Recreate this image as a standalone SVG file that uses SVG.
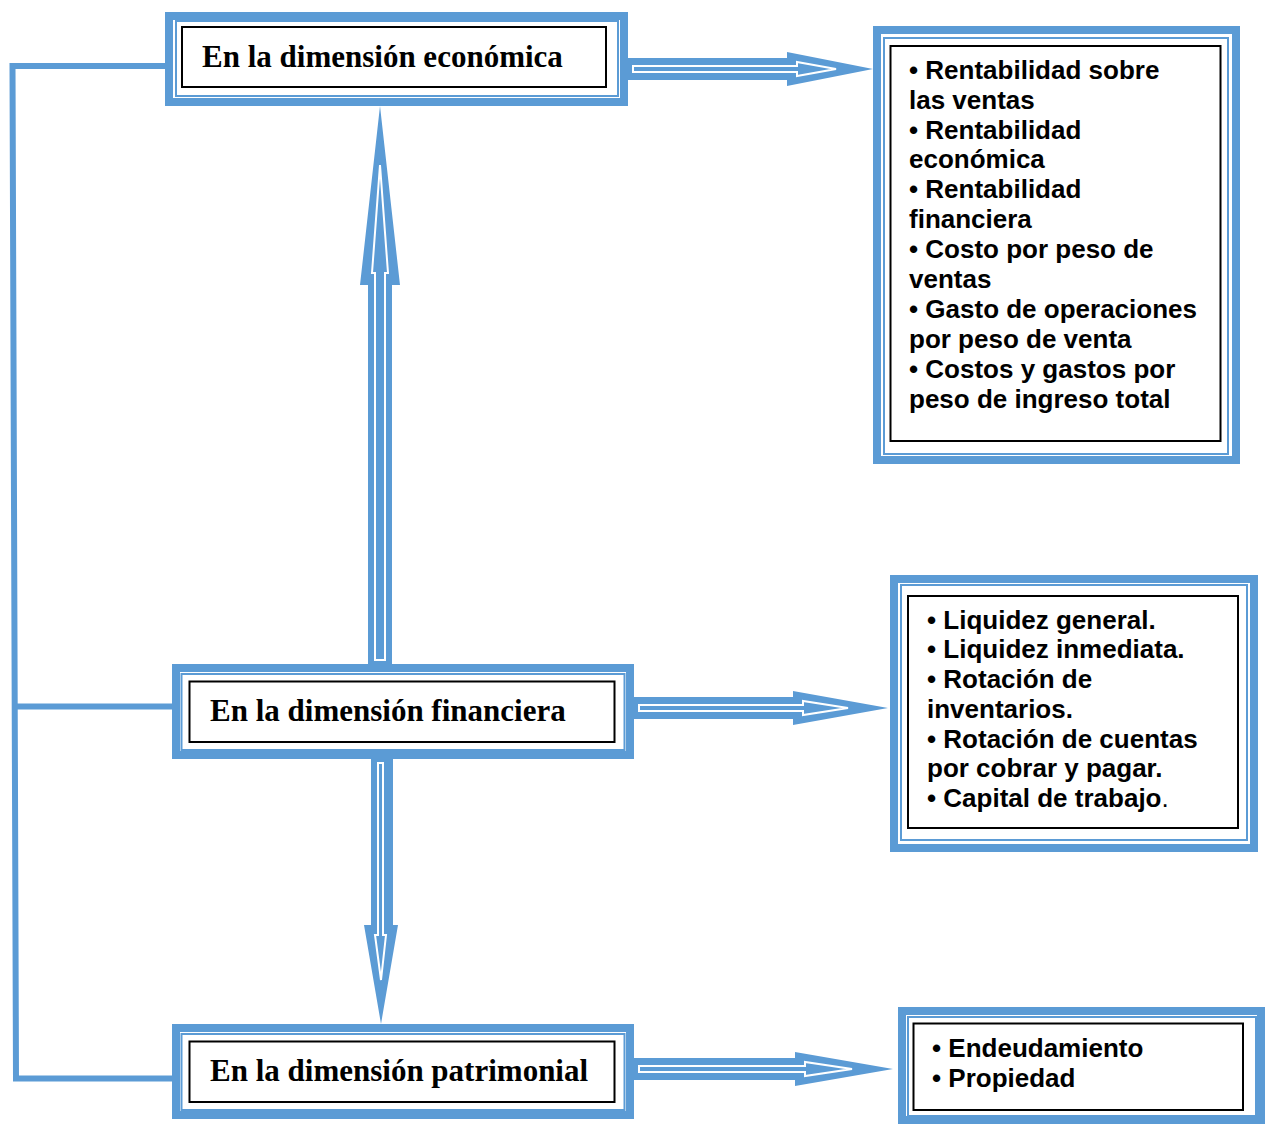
<svg xmlns="http://www.w3.org/2000/svg" width="1269" height="1124" viewBox="0 0 1269 1124">
<style>
.outer{fill:none;stroke:#5B9BD5;stroke-width:8}
.thin{fill:none;stroke:#5B9BD5;stroke-width:2}
.blk{fill:#fff;stroke:#000;stroke-width:2}
.arr{fill:#5B9BD5;stroke:none}
.arrin{fill:none;stroke:#fff;stroke-width:2;stroke-linejoin:miter}
.line{fill:none;stroke:#5B9BD5;stroke-width:6}
.lt{font-family:"Liberation Serif","Times New Roman",serif;font-weight:bold;font-size:31px;fill:#000}
.rt{font-family:"Liberation Sans",Arial,sans-serif;font-weight:bold;font-size:26px;fill:#000}
</style>
<rect width="1269" height="1124" fill="#fff"/>
<g id="connectors">
<path class="line" d="M165,66 L12.5,66 L16,1078.5 L172,1078.5"/>
<path class="line" d="M14.5,706.5 L172,706.5"/>
<polygon class="arr" points="628,58 787,58 787,52 873,69 787,86 787,80 628,80"/>
<polygon class="arrin" points="633,66 797,66 797,62 836,69 797,76 797,72 633,72"/>
<polygon class="arr" points="634,697 793,697 793,691 888,708 793,725 793,719 634,719"/>
<polygon class="arrin" points="639,705 803,705 803,701 848,708 803,715 803,711 639,711"/>
<polygon class="arr" points="634,1058 795,1058 795,1052 893,1069 795,1086 795,1080 634,1080"/>
<polygon class="arrin" points="639,1066 805,1066 805,1062 852,1069 805,1076 805,1072 639,1072"/>
<polygon class="arr" points="368,664 368,285 360,285 380,106 400,285 392,285 392,664"/>
<polygon class="arrin" points="375,660 375,273 372,273 380,165 388,273 385,273 385,660"/>
<polygon class="arr" points="371,759 371,925 364,925 381,1024 398,925 393,925 393,759"/>
<polygon class="arrin" points="378,763 378,935 375,935 381,980 386,935 383,935 383,763"/>
</g>
<g id="economica">
<rect class="outer" x="169" y="16" width="455" height="86"/>
<rect class="thin" x="176" y="21" width="442" height="75"/>
<rect class="blk" x="182" y="27" width="424" height="60"/>
<text class="lt" x="202" y="67">En la dimensión económica</text>
</g>
<g id="financiera">
<rect class="outer" x="176" y="668" width="454" height="87"/>
<rect class="thin" x="181.5" y="674" width="443" height="76"/>
<rect class="blk" x="189.5" y="681.5" width="425" height="60.5"/>
<text class="lt" x="210" y="721">En la dimensión financiera</text>
</g>
<g id="patrimonial">
<rect class="outer" x="176" y="1028" width="454" height="87"/>
<rect class="thin" x="181.5" y="1034" width="443" height="76"/>
<rect class="blk" x="189.5" y="1041.5" width="425" height="60.5"/>
<text class="lt" x="210" y="1081">En la dimensión patrimonial</text>
</g>
<g id="indicadores-economicos">
<rect class="outer" x="877" y="30" width="359" height="430"/>
<rect class="thin" x="884" y="38" width="344" height="416"/>
<rect class="blk" x="890.5" y="46" width="330" height="395"/>
<text class="rt">
<tspan x="909" y="79">• Rentabilidad sobre</tspan>
<tspan x="909" y="109">las ventas</tspan>
<tspan x="909" y="139">• Rentabilidad</tspan>
<tspan x="909" y="168">económica</tspan>
<tspan x="909" y="198">• Rentabilidad</tspan>
<tspan x="909" y="228">financiera</tspan>
<tspan x="909" y="258">• Costo por peso de</tspan>
<tspan x="909" y="288">ventas</tspan>
<tspan x="909" y="318">• Gasto de operaciones</tspan>
<tspan x="909" y="348">por peso de venta</tspan>
<tspan x="909" y="378">• Costos y gastos por</tspan>
<tspan x="909" y="408">peso de ingreso total</tspan>
</text>
</g>
<g id="indicadores-financieros">
<rect class="outer" x="894" y="579" width="360" height="269"/>
<rect class="thin" x="901" y="585" width="346" height="255"/>
<rect class="blk" x="908" y="596" width="330" height="232"/>
<text class="rt">
<tspan x="927" y="629">• Liquidez general.</tspan>
<tspan x="927" y="658">• Liquidez inmediata.</tspan>
<tspan x="927" y="688">• Rotación de</tspan>
<tspan x="927" y="718">inventarios.</tspan>
<tspan x="927" y="748">• Rotación de cuentas</tspan>
<tspan x="927" y="777">por cobrar y pagar.</tspan>
<tspan x="927" y="807">• Capital de trabajo<tspan font-weight="normal">.</tspan></tspan>
</text>
</g>
<g id="indicadores-patrimoniales">
<rect class="outer" x="902" y="1011" width="359" height="109"/>
<rect class="thin" x="908" y="1017" width="348" height="99"/>
<rect class="blk" x="913.5" y="1023.5" width="329.5" height="86.5"/>
<text class="rt">
<tspan x="932" y="1057">• Endeudamiento</tspan>
<tspan x="932" y="1087">• Propiedad</tspan>
</text>
</g>
</svg>
